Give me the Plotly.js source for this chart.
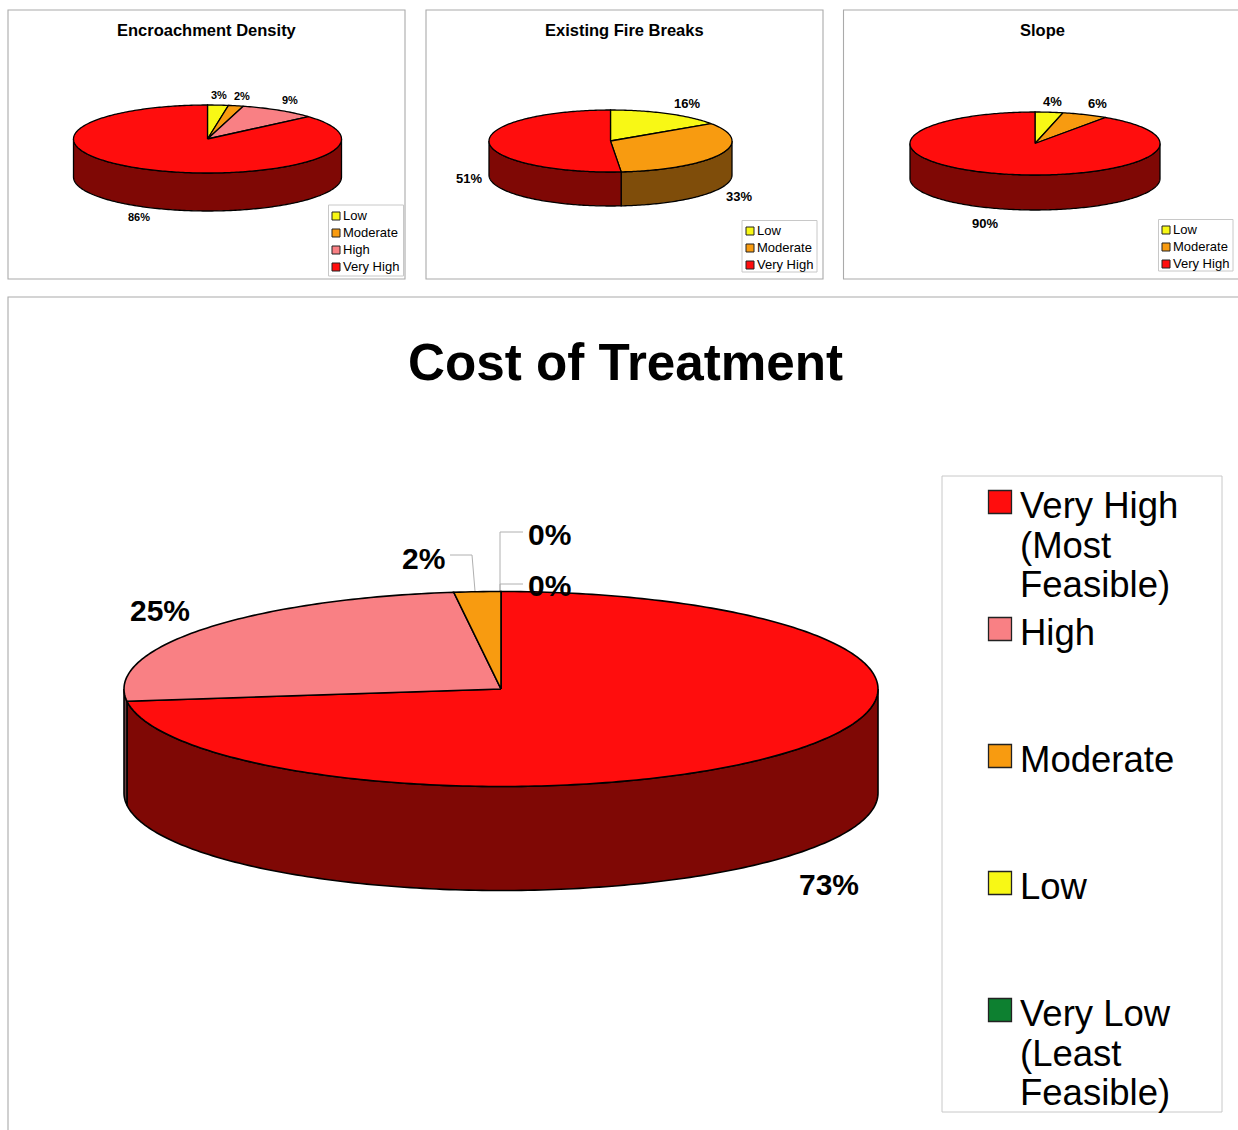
<!DOCTYPE html>
<html><head><meta charset="utf-8">
<script src="https://cdn.plot.ly/plotly-3.0.1.min.js"></script>
<style>html,body{margin:0;padding:0;background:#fff}#c{width:1238px;height:1130px}</style>
</head><body><div id="c"></div>
<script>
// ---- data ----
const encroachmentCategories = ["Low","Moderate","High","Very High"];
const encroachmentValues = [2.5,1.8,9.3,86.4];
const fireBreakCategories = ["Low","Moderate","Very High"];
const fireBreakValues = [15.5,33.1,51.4];
const slopeCategories = ["Low","Moderate","Very High"];
const slopeValues = [3.6,5.95,90.45];
const costCategories = ["Very High","High","Moderate","Low","Very Low"];
const costValues = [73,25,2,0,0];
const costLegendLines = [["Very High","(Most","Feasible)"],["High"],["Moderate"],["Low"],["Very Low","(Least","Feasible)"]];

// ---- styles ----
const topColor = {"Very High":"#FF0D0D","High":"#F98084","Moderate":"#F89B10","Low":"#F8F815","Very Low":"#0D8030"};
const sideColor = {"Very High":"#7F0805","High":"#6A4042","Moderate":"#7F4D0A","Low":"#7C7C0A","Very Low":"#064018"};
const FONT = "Liberation Sans, Arial, sans-serif";
const FRAME = "#aaaaaa";

const charts = [
 {title:"Encroachment Density", cats:encroachmentCategories, vals:encroachmentValues,
  cx:207.5, cy:139, rx:134, ry:34, depth:38, lw:1.3, frame:[8,10,405,279], titleAt:[207,30], titleSize:16.5,
  labelSize:[11,11,11,11], labelAt:[[219,95],[242,96],[290,100],[139,217]],
  legend:{box:[328.5,205,403.5,276], sw:336, tx:342, ys:[216,233,250,267]}},
 {title:"Existing Fire Breaks", cats:fireBreakCategories, vals:fireBreakValues,
  cx:610.5, cy:141, rx:121.5, ry:31, depth:34, lw:1.3, frame:[426,10,823,279], titleAt:[624,30], titleSize:16.5,
  labelSize:[13,13,13], labelAt:[[687,103],[739,196],[469,178]],
  legend:{box:[742,220.5,817,272], sw:750, tx:756, ys:[231,248,265]}},
 {title:"Slope", cats:slopeCategories, vals:slopeValues,
  cx:1035, cy:143.5, rx:125, ry:31.5, depth:35, lw:1.3, frame:[843.5,10,1260,279], titleAt:[1042,30], titleSize:16.5,
  labelSize:[13,13,13], labelAt:[[1052,101],[1097,103],[985,223]],
  legend:{box:[1158.5,219.5,1233,271], sw:1166, tx:1172, ys:[230,247,264]}},
 {title:"Cost of Treatment", cats:costCategories, vals:costValues,
  cx:501, cy:689, rx:377, ry:97.5, depth:104, lw:1.6, frame:[8,297,1260,1150], titleAt:[625,362], titleSize:51.2,
  labelSize:[30,30,30,30,30], labelAt:[[829,884],[160,610],[423,558],[549.5,585],[549.5,534]],
  leaders:[[[450,555],[472,555],[475,591]],[[523,584],[500,584],[500,591]],[[523,532],[500,532],[500,591]]]}
];

const traces = [], annotations = [], shapes = [];

function arc(c, f0, f1, dy){
  const n = Math.max(2, Math.ceil((f1-f0)*360)), xs=[], ys=[];
  for(let i=0;i<=n;i++){
    const t = 2*Math.PI*(f0+(f1-f0)*i/n);
    xs.push(c.cx+c.rx*Math.sin(t)); ys.push(c.cy-c.ry*Math.cos(t)+dy);
  }
  return [xs,ys];
}
function poly(xs,ys,fill,lw){
  traces.push({type:"scatter",mode:"lines",x:xs,y:ys,fill:"toself",fillcolor:fill,
    line:{color:"#000",width:lw,simplify:false},hoverinfo:"skip",showlegend:false});
}
function text(t,x,y,size,opts){
  annotations.push(Object.assign({text:t,x:x,y:y,xref:"x",yref:"y",showarrow:false,borderpad:0,
    xanchor:"center",yanchor:"middle",font:{family:FONT,size:size,color:"#000"}},opts||{}));
}
function swatches(xs,ys,colors,size,lw){
  traces.push({type:"scatter",mode:"markers",x:xs,y:ys,
    marker:{symbol:"square",size:size,color:colors,line:{color:"#222",width:lw}},hoverinfo:"skip",showlegend:false});
}

charts.forEach(c=>{
  shapes.push({type:"rect",xref:"x",yref:"y",x0:c.frame[0],y0:c.frame[1],x1:c.frame[2],y1:c.frame[3],
    line:{color:FRAME,width:1.1},fillcolor:"#fff",layer:"below"});
  const total = c.vals.reduce((a,b)=>a+b,0);
  let acc=0; const spans=c.vals.map(v=>{const s=[acc/total,(acc+v)/total];acc+=v;return s;});
  (c.leaders||[]).forEach(l=>traces.push({type:"scatter",mode:"lines",x:l.map(p=>p[0]),y:l.map(p=>p[1]),
    line:{color:"#b0b0b0",width:1},hoverinfo:"skip",showlegend:false}));
  // front wall of the disc: only the part facing the viewer
  spans.forEach((s,i)=>{
    const a=Math.max(s[0],0.25), b=Math.min(s[1],0.75);
    if(b<=a) return;
    const t=arc(c,a,b,0), u=arc(c,a,b,c.depth);
    poly(t[0].concat(u[0].slice().reverse(),[t[0][0]]), t[1].concat(u[1].slice().reverse(),[t[1][0]]), sideColor[c.cats[i]], c.lw);
  });
  // top face
  spans.forEach((s,i)=>{
    if(s[1]<=s[0]) return;
    const t=arc(c,s[0],s[1],0);
    poly([c.cx].concat(t[0],[c.cx]),[c.cy].concat(t[1],[c.cy]),topColor[c.cats[i]],c.lw);
  });
  text("<b>"+c.title+"</b>",c.titleAt[0],c.titleAt[1],c.titleSize);
  c.vals.forEach((v,i)=>text("<b>"+Math.round(v)+"%</b>",c.labelAt[i][0],c.labelAt[i][1],c.labelSize[i]));
  if(c.legend){
    const L=c.legend;
    shapes.push({type:"rect",xref:"x",yref:"y",x0:L.box[0],y0:L.box[1],x1:L.box[2],y1:L.box[3],
      line:{color:"#c8c8c8",width:1},fillcolor:"#fff",layer:"below"});
    swatches(c.cats.map(()=>L.sw),L.ys,c.cats.map(k=>topColor[k]),8,1);
    c.cats.forEach((k,i)=>text(k,L.tx,L.ys[i]-0.7,13,{xanchor:"left"}));
  }
});

// large legend
shapes.push({type:"rect",xref:"x",yref:"y",x0:942,y0:476,x1:1222,y1:1112,line:{color:"#c8c8c8",width:1},fillcolor:"#fff",layer:"below"});
const mainSwatchY=[502,629,756,883,1010];
swatches(costCategories.map(()=>1000),mainSwatchY,costCategories.map(k=>topColor[k]),23,1.3);
costLegendLines.forEach((lines,i)=>lines.forEach((ln,j)=>text(ln,1019,mainSwatchY[i]+3.5+j*39.5,36.5,{xanchor:"left"})));

Plotly.newPlot("c",traces,{
  width:1238,height:1130,margin:{l:0,r:0,t:0,b:0,pad:0},showlegend:false,
  paper_bgcolor:"#fff",plot_bgcolor:"#fff",
  xaxis:{range:[0,1238],visible:false,fixedrange:true},
  yaxis:{range:[1130,0],visible:false,fixedrange:true},
  shapes:shapes,annotations:annotations
},{displayModeBar:false,staticPlot:true});
</script>
</body></html>
